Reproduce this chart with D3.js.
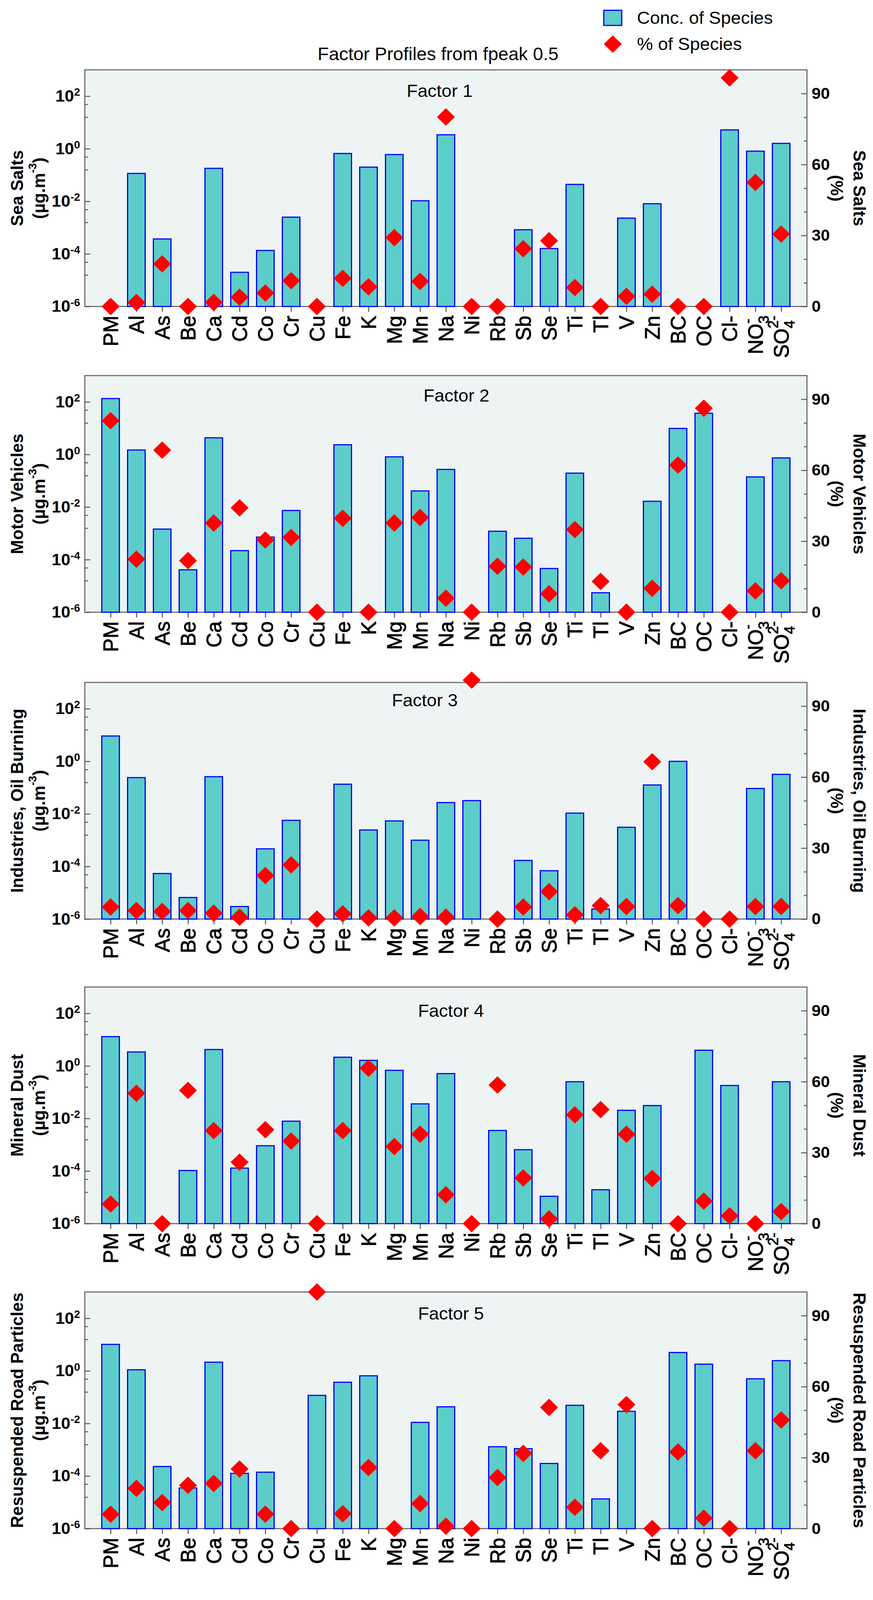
<!DOCTYPE html>
<html lang="en">
<head>
<meta charset="UTF-8" />
<title>Factor Profiles from fpeak 0.5</title>
<script src="https://cdn.jsdelivr.net/npm/d3@7"></script>
<style>
  html, body { margin: 0; padding: 0; height: 100%; overflow: hidden; background: #fff; }
  svg { display: block; }
  text { font-family: "Liberation Sans", Arial, sans-serif; }
</style>
</head>
<body>
<div id="chart"></div>
<script>
// species along the x axis (NO3- and SO42- get sub/superscripts when drawn)
const species = ['PM','Al','As','Be','Ca','Cd','Co','Cr','Cu','Fe','K','Mg','Mn','Na','Ni',
  'Rb','Sb','Se','Ti','Tl','V','Zn','BC','OC','Cl-','NO3-','SO42-'];

const factorTitles = ['Factor 1','Factor 2','Factor 3','Factor 4','Factor 5'];
const sourceNames = ['Sea Salts','Motor Vehicles','Industries, Oil Burning','Mineral Dust','Resuspended Road Particles'];

// concentration of species (ug/m3), null = no bar
const concF1 = [null,0.115,3.7e-4,null,0.18,2.0e-5,1.35e-4,2.5e-3,null,0.66,0.2,0.6,0.0105,3.4,null,
  null,8.3e-4,1.6e-4,0.044,null,2.3e-3,8.1e-3,null,null,5.2,0.81,1.6];
const concF2 = [134,1.48,1.45e-3,4.1e-5,4.3,2.2e-4,7.2e-4,7.4e-3,null,2.34,null,0.81,0.041,0.27,null,
  1.2e-3,6.5e-4,4.6e-5,0.195,5.5e-6,null,0.0166,9.8,37,null,0.14,0.74];
const concF3 = [9.2,0.24,5.4e-5,6.6e-6,0.26,3.0e-6,4.7e-4,5.7e-3,null,0.135,2.45e-3,5.4e-3,1.0e-3,0.027,0.032,
  null,1.7e-4,6.9e-5,0.0107,2.4e-6,3.1e-3,0.126,1.0,null,null,0.093,0.32];
const concF4 = [13,3.4,null,1.05e-4,4.2,1.3e-4,9.2e-4,7.9e-3,null,2.14,1.63,0.68,0.036,0.51,null,
  3.5e-3,6.5e-4,1.1e-5,0.25,1.95e-5,0.0205,0.031,null,3.95,0.18,null,0.25];
const concF5 = [10.2,1.1,2.3e-4,3.5e-5,2.14,1.26e-4,1.4e-4,null,0.117,0.37,0.65,null,0.011,0.043,null,
  1.3e-3,1.1e-3,3.0e-4,0.049,1.35e-5,0.029,null,5.0,1.8,null,0.5,2.45];

// % of species
const pctF1 = [0,1.7,18,0,1.7,3.9,5.7,10.9,0,11.9,8.3,29.1,10.6,80.1,0,0,24.4,27.8,8.0,0,4.3,5.2,0,0,96.6,52.4,30.6];
const pctF2 = [80.9,22.4,68.5,21.8,37.7,44.1,30.5,31.6,0,39.7,0,37.7,40.0,5.9,0,19.4,19.1,7.8,34.9,13.0,0,10.1,62.2,86.2,0,9.0,13.3];
const pctF3 = [5.1,3.6,3.2,3.6,2.5,0.8,18.4,22.9,0,2.2,0.5,0.5,1.1,0.8,101,0,5.1,11.6,1.8,5.7,5.3,66.5,5.7,0,0,5.3,5.3];
const pctF4 = [8.3,55.1,0,56.3,39.3,26.0,39.7,34.9,0,39.3,65.7,32.6,37.8,12.2,0,58.6,19.3,2.0,46.0,48.2,37.8,19.1,0,9.5,3.3,0,5.1];
const pctF5 = [6.1,17.0,11.0,18.3,19.1,25.2,6.1,0,100,6.3,25.8,0,10.6,1.0,0,21.6,31.8,51.2,9.0,32.9,52.4,0,32.4,4.4,0,32.9,45.9];

const concSeries = [concF1, concF2, concF3, concF4, concF5];
const pctSeries = [pctF1, pctF2, pctF3, pctF4, pctF5];

const concTicks = [1e-6, 1e-4, 1e-2, 1, 1e2];
const concMinor = [49, 15.8, 0.49, 0.158, 4.9e-3, 1.58e-3, 4.9e-5, 1.58e-5];
const pctTicks = [0, 30, 60, 90];
const pctMinor = [10, 20, 40, 50, 70, 80];

// layout
const W = 2234, H = 4213;
const left = 217, right = 2065;
const panelTops = [184, 989, 1797, 2599, 3402];
const panelH = 623;
const titleX = [1125, 1168, 1087, 1154, 1154];
const titleDy = [71, 68, 63, 78, 73];

const barFill = '#5ccdc8', barStroke = '#0000ff', frameCol = '#6e6e6e';

// viewBox keeps the whole figure inside the window even if the viewport is a bit shorter
const svg = d3.select('#chart').append('svg')
  .attr('viewBox', `0 0 ${W} ${H}`)
  .attr('preserveAspectRatio', 'none')
  .style('width', '100vw').style('height', '100vh')
  .style('background', '#fff');

const x = d3.scalePoint().domain(species).range([left, right]).padding(1);

const diamond = d3.line()([[0, -23], [23, 0], [0, 23], [-23, 0]]) + 'Z';

// main title + legend
svg.append('text').attr('x', 1121).attr('y', 158).attr('text-anchor', 'middle')
  .attr('font-size', 47).text('Factor Profiles from fpeak 0.5');

svg.append('rect').attr('x', 1545).attr('y', 27).attr('width', 46).attr('height', 40)
  .attr('fill', barFill).attr('stroke', barStroke).attr('stroke-width', 3);
svg.append('text').attr('x', 1630).attr('y', 47).attr('dominant-baseline', 'central')
  .attr('font-size', 46).text('Conc. of Species');
svg.append('path').attr('d', diamond).attr('transform', 'translate(1568,116)').attr('fill', '#ff0000');
svg.append('text').attr('x', 1630).attr('y', 116).attr('dominant-baseline', 'central')
  .attr('font-size', 46).text('% of Species');

function speciesLabel(text, s) {
  if (s === 'NO3-') {
    text.append('tspan').text('NO');
    text.append('tspan').attr('baseline-shift', 'sub').attr('font-size', '70%').text('3');
    text.append('tspan').attr('dx', -21).attr('baseline-shift', 'super').attr('font-size', '70%').text('-');
  } else if (s === 'SO42-') {
    text.append('tspan').text('SO');
    text.append('tspan').attr('baseline-shift', 'sub').attr('font-size', '70%').text('4');
    text.append('tspan').attr('dx', -21).attr('baseline-shift', 'super').attr('font-size', '70%').text('2-');
  } else {
    text.text(s);
  }
}

factorTitles.forEach((title, i) => {
  const top = panelTops[i], base = top + panelH;
  const g = svg.append('g');

  const y = d3.scaleLog().domain([1e-6, 1e3]).range([base, top]);
  const p = d3.scaleLinear().domain([0, 100]).range([base, top]);

  g.append('rect').attr('x', left).attr('y', top).attr('width', right - left).attr('height', panelH)
    .attr('fill', '#eef4f4').attr('stroke', frameCol).attr('stroke-width', 3);

  // left log axis
  const la = g.append('g').attr('transform', `translate(${left},0)`)
    .call(d3.axisLeft(y).tickValues(concTicks).tickSizeInner(-14).tickSizeOuter(0).tickPadding(12));
  la.selectAll('.tick text').each(function (d) {
    const t = d3.select(this).text(null).attr('font-size', 43).attr('font-weight', 'bold').attr('fill', '#000');
    t.append('tspan').text('10');
    t.append('tspan').attr('baseline-shift', 'super').attr('font-size', '65%').text(Math.round(Math.log10(d)));
  });
  g.append('g').attr('transform', `translate(${left},0)`)
    .call(d3.axisLeft(y).tickValues(concMinor).tickSizeInner(-8).tickSizeOuter(0).tickFormat(''));

  // right % axis
  const ra = g.append('g').attr('transform', `translate(${right},0)`)
    .call(d3.axisRight(p).tickValues(pctTicks).tickSizeInner(-15).tickSizeOuter(0).tickPadding(12));
  ra.selectAll('.tick text').attr('font-size', 42).attr('font-weight', 'bold').attr('fill', '#000')
    .attr('font-family', '"Liberation Sans", Arial, sans-serif');
  g.append('g').attr('transform', `translate(${right},0)`)
    .call(d3.axisRight(p).tickValues(pctMinor).tickSizeInner(-8).tickSizeOuter(0).tickFormat(''));

  // x axis ticks
  g.append('g').attr('transform', `translate(0,${base})`)
    .call(d3.axisBottom(x).tickSize(14).tickFormat(''));

  g.selectAll('.domain').remove();
  g.selectAll('.tick line').attr('stroke', '#555').attr('stroke-width', 2.5);

  // species labels (a thin outline makes them a bit heavier, like the original)
  species.forEach(s => {
    const t = g.append('text')
      .attr('transform', `translate(${x(s)},${base + 24}) rotate(-90)`)
      .attr('text-anchor', 'end').attr('dominant-baseline', 'central')
      .attr('font-size', 54).attr('stroke', '#000').attr('stroke-width', 1.2);
    speciesLabel(t, s);
  });

  // bars
  const conc = concSeries[i];
  g.selectAll('rect.bar').data(species.map((s, k) => ({ s, v: conc[k] })).filter(d => d.v !== null))
    .join('rect').attr('class', 'bar')
    .attr('x', d => x(d.s) - 22.5).attr('width', 45)
    .attr('y', d => y(d.v)).attr('height', d => base - y(d.v))
    .attr('fill', barFill).attr('stroke', barStroke).attr('stroke-width', 3);

  // % diamonds
  const pct = pctSeries[i];
  g.selectAll('path.pt').data(species.map((s, k) => ({ s, v: pct[k] })))
    .join('path').attr('class', 'pt')
    .attr('d', diamond)
    .attr('transform', d => `translate(${x(d.s)},${p(d.v)})`)
    .attr('fill', '#ff0000');

  // panel title
  g.append('text').attr('x', titleX[i]).attr('y', top + titleDy[i]).attr('text-anchor', 'middle')
    .attr('font-size', 46).text(title);

  // axis titles
  const cy = top + panelH / 2;
  g.append('text').attr('transform', `translate(43,${cy}) rotate(-90)`)
    .attr('text-anchor', 'middle').attr('dominant-baseline', 'central')
    .attr('font-size', 45).attr('font-weight', 'bold').text(sourceNames[i]);
  const u = g.append('text').attr('transform', `translate(99,${cy}) rotate(-90)`)
    .attr('text-anchor', 'middle').attr('dominant-baseline', 'central')
    .attr('font-size', 45).attr('font-weight', 'bold');
  u.append('tspan').text('(µg.m');
  u.append('tspan').attr('baseline-shift', 'super').attr('font-size', '65%').text('-3');
  u.append('tspan').text(')');

  g.append('text').attr('transform', `translate(2200,${cy}) rotate(90)`)
    .attr('text-anchor', 'middle').attr('dominant-baseline', 'central')
    .attr('font-size', 45).attr('font-weight', 'bold').text(sourceNames[i]);
  g.append('text').attr('transform', `translate(2142,${cy}) rotate(90)`)
    .attr('text-anchor', 'middle').attr('dominant-baseline', 'central')
    .attr('font-size', 45).attr('font-weight', 'bold').text('(%)');
});
</script>
</body>
</html>
